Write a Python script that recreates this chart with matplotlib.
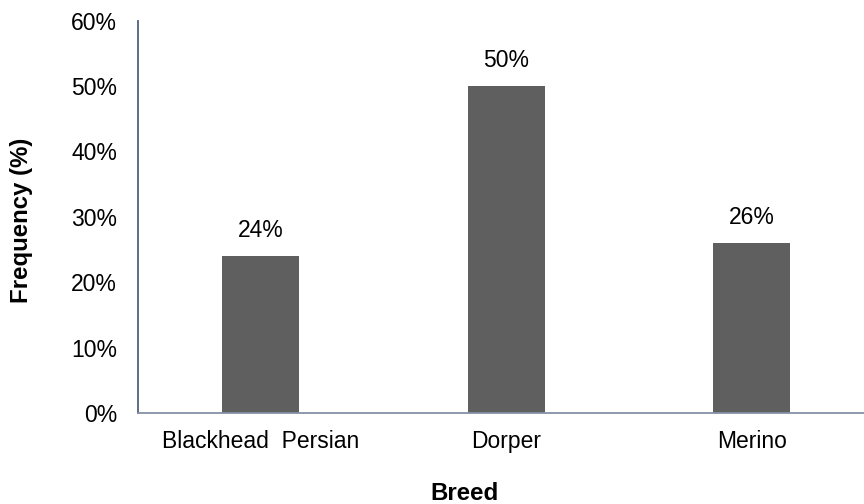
import matplotlib
matplotlib.use("Agg")
import matplotlib.pyplot as plt
from matplotlib.ticker import PercentFormatter

plt.rcParams['font.family'] = ['Liberation Sans', 'DejaVu Sans']

breeds = ["Blackhead  Persian", "Dorper", "Merino"]
freq = [0.24, 0.50, 0.26]
yticks = [0.0, 0.1, 0.2, 0.3, 0.4, 0.5, 0.6]

fs = 16.5
fs_lab = 17.3

fig = plt.figure(figsize=(8.64, 5.04), dpi=100)
ax = fig.add_axes([138/864, 91/504, 736.5/864, 392.3/504])

x = list(range(len(breeds)))
bars = ax.bar(x, freq, width=0.314, color='#5f5f5f')

for xi, v in zip(x, freq):
    ax.annotate("%d%%" % round(v*100), (xi, v), xytext=(0, 10), textcoords='offset points',
                ha='center', va='bottom', fontsize=fs, color='black')

ax.set_xlim(-0.5, 2.5)
ax.set_ylim(0, 0.6)
ax.set_yticks(yticks)
ax.yaxis.set_major_formatter(PercentFormatter(1.0, decimals=0))
ax.set_xticks(x)
ax.set_xticklabels(breeds)
ax.tick_params(axis='both', length=0, labelsize=fs)
ax.tick_params(axis='y', pad=15)
ax.tick_params(axis='x', pad=12)

for s in ['top', 'right']:
    ax.spines[s].set_visible(False)
ax.spines['left'].set_color('#51617a')
ax.spines['left'].set_linewidth(1.3)
ax.spines['bottom'].set_color('#8591a6')
ax.spines['bottom'].set_linewidth(1.3)

fig.text(464/864, 1 - 493/504, "Breed", ha='center', va='center', fontsize=fs_lab, fontweight='bold')
fig.text(22/864, 1 - 220/504, "Frequency (%)", ha='center', va='center', rotation=90,
         fontsize=fs_lab, fontweight='bold')

fig.savefig("out.png", dpi=100)
